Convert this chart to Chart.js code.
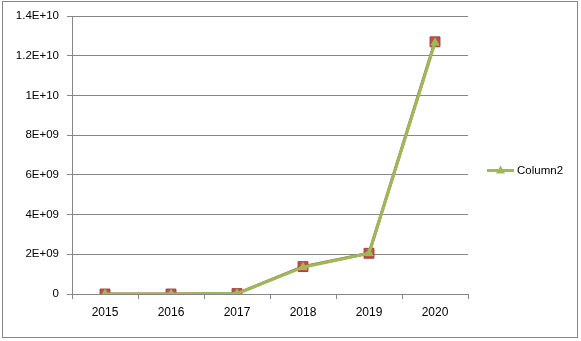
<!DOCTYPE html>
<html><head><meta charset="utf-8">
<script src="https://cdn.jsdelivr.net/npm/chart.js@4/dist/chart.umd.min.js"></script>
<style>html,body{margin:0;padding:0;background:#fff;}#wrap{width:581px;height:341px;position:relative;}</style>
</head><body><div id="wrap"><canvas id="c" width="581" height="341"></canvas></div>
<script>
const categories = ["2015","2016","2017","2018","2019","2020"];
const column1 = [0, 0, 20000000, 1380000000, 2050000000, 12700000000];
const column2 = [0, 0, 20000000, 1350000000, 2050000000, 12650000000];
const yTickLabels = {0:"0",2000000000:"2E+09",4000000000:"4E+09",6000000000:"6E+09",8000000000:"8E+09",10000000000:"1E+10",12000000000:"1.2E+10",14000000000:"1.4E+10"};
const legendLabel = "Column2";

const FONT = "'Liberation Sans', Arial, sans-serif";
const green = "#9BBB59", red = "#C0504D";

const frame = {
  id: 'frame',
  beforeDraw(chart){
    const ctx = chart.ctx;
    ctx.save();
    ctx.fillStyle = '#fff'; ctx.fillRect(0,0,chart.width,chart.height);
    ctx.strokeStyle = '#868686'; ctx.lineWidth = 1;
    ctx.strokeRect(2.5, 1.5, 575, 336);
    ctx.restore();
  },
  afterDraw(chart){
    const ctx = chart.ctx;
    ctx.save();
    const y = 170.5;
    ctx.strokeStyle = green; ctx.lineWidth = 3;
    ctx.beginPath(); ctx.moveTo(487, y); ctx.lineTo(514, y); ctx.stroke();
    ctx.fillStyle = green;
    ctx.beginPath(); ctx.moveTo(500.5, y-5); ctx.lineTo(505, y+3); ctx.lineTo(496, y+3); ctx.closePath(); ctx.fill();
    ctx.fillStyle = '#000'; ctx.font = "11.5px " + FONT; ctx.textBaseline = 'middle'; ctx.textAlign='left';
    ctx.fillText(legendLabel, 517, y);
    ctx.restore();
  }
};

new Chart(document.getElementById('c'), {
  type: 'line',
  data: {
    labels: categories,
    datasets: [
      {label: 'Column1', data: column1, borderColor: red, backgroundColor: red, borderWidth: 3,
       pointStyle: 'rect', pointRadius: 7, pointBorderColor: '#A33F3C', pointBorderWidth: 1, tension: 0, order: 2},
      {label: legendLabel, data: column2, borderColor: green, backgroundColor: green, borderWidth: 3,
       pointStyle: 'triangle', pointRadius: 5.5, pointBorderColor: green, pointBorderWidth: 0, tension: 0, order: 1}
    ]
  },
  options: {
    responsive: false, animation: false, devicePixelRatio: 1,
    layout: {padding: {left: 0, right: 113, top: 16, bottom: 0}},
    plugins: {legend: {display: false}, tooltip: {enabled: false}},
    scales: {
      x: {
        offset: true,
        grid: {offset: true, drawOnChartArea: false, drawTicks: true, tickLength: 5, color: '#868686'},
        border: {color: '#868686'},
        ticks: {color: '#000', font: {family: FONT, size: 12}, padding: 6, maxRotation: 0},
        afterFit(s){ s.height = 341 - 294; }
      },
      y: {
        min: 0, max: 14000000000,
        grid: {color: '#868686', tickLength: 5, drawTicks: true},
        border: {color: '#868686'},
        ticks: {stepSize: 2000000000, color: '#000', font: {family: FONT, size: 11.5}, padding: 8,
                callback: v => yTickLabels[v] !== undefined ? yTickLabels[v] : ''},
        afterFit(s){ s.width = 72; }
      }
    }
  },
  plugins: [frame]
});
</script>
</body></html>
